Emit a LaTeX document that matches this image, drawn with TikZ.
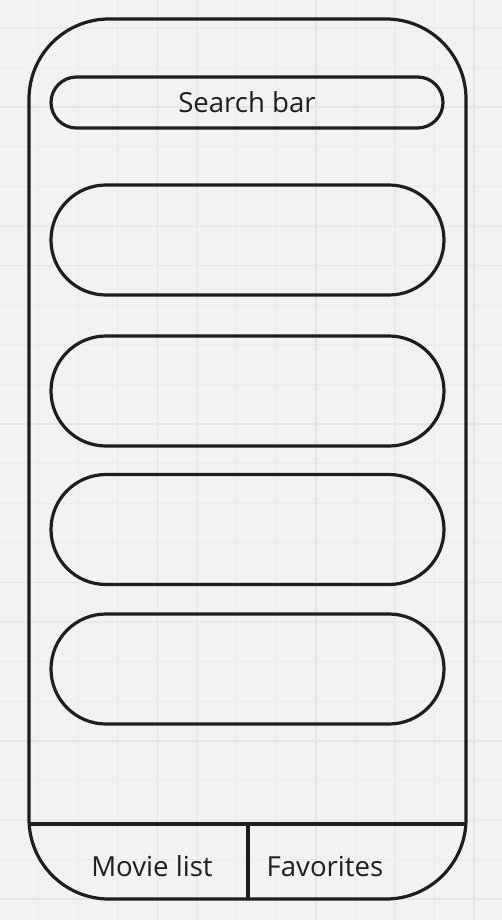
\documentclass[tikz,border=0pt]{standalone}
\usepackage{fontspec}
\setmainfont{Open Sans}
\definecolor{bg}{HTML}{F2F2F2}
\definecolor{gridminor}{HTML}{EAEAEA}
\definecolor{gridmajor}{HTML}{E4E4E4}
\definecolor{ink}{HTML}{1E1E1E}
\begin{document}
\begin{tikzpicture}[x=1pt,y=-1pt,
  outline/.style={draw=ink,line width=3.2pt},
  pill/.style={outline,minimum width=393pt,minimum height=110pt,rounded corners=55pt,inner sep=0pt},
  searchpill/.style={outline,minimum width=392pt,minimum height=51pt,rounded corners=25.5pt,inner sep=0pt,font=\fontsize{27.6}{30}\selectfont,text=ink},
  tablabel/.style={font=\fontsize{27.6}{30}\selectfont,text=ink,inner sep=0pt}]
\useasboundingbox (0,0) rectangle (502,920);
\fill[bg] (0,0) rectangle (502,920);
% grid
\foreach \i in {0,...,11} {\draw[gridminor,line width=1.2pt] (38.5+39.6*\i,0) -- (38.5+39.6*\i,920);}
\foreach \j in {0,...,22} {\draw[gridminor,line width=1.2pt] (0,28+39.6*\j) -- (502,28+39.6*\j);}
\foreach \j in {2,6,10,14,18,22} {\draw[gridmajor,line width=1.6pt] (0,28+39.6*\j) -- (502,28+39.6*\j);}
\foreach \i in {3,7,11} {\draw[gridmajor,line width=1.6pt] (38.5+39.6*\i,0) -- (38.5+39.6*\i,920);}
% phone
\node[outline,minimum width=437pt,minimum height=880pt,rounded corners=80pt,inner sep=0pt] (phone) at (247.5,459) {};
\coordinate (divl) at (29,824);
\coordinate (divr) at (466,824);
\coordinate (divm) at (248,824);
\coordinate (divb) at (248,899);
\draw[outline] (divl) -- (divr);
\draw[outline] (divm) -- (divb);
% content
\node[searchpill] (search) at (247,102.5) {Search bar};
\node[pill] (card1) at (247.5,240) {};
\node[pill] (card2) at (247.5,391) {};
\node[pill] (card3) at (247.5,529.5) {};
\node[pill] (card4) at (247.5,669) {};
% tabs
\node[tablabel] (movies) at (152,866) {Movie list};
\node[tablabel] (favs) at (325,866) {Favorites};
\end{tikzpicture}
\end{document}
